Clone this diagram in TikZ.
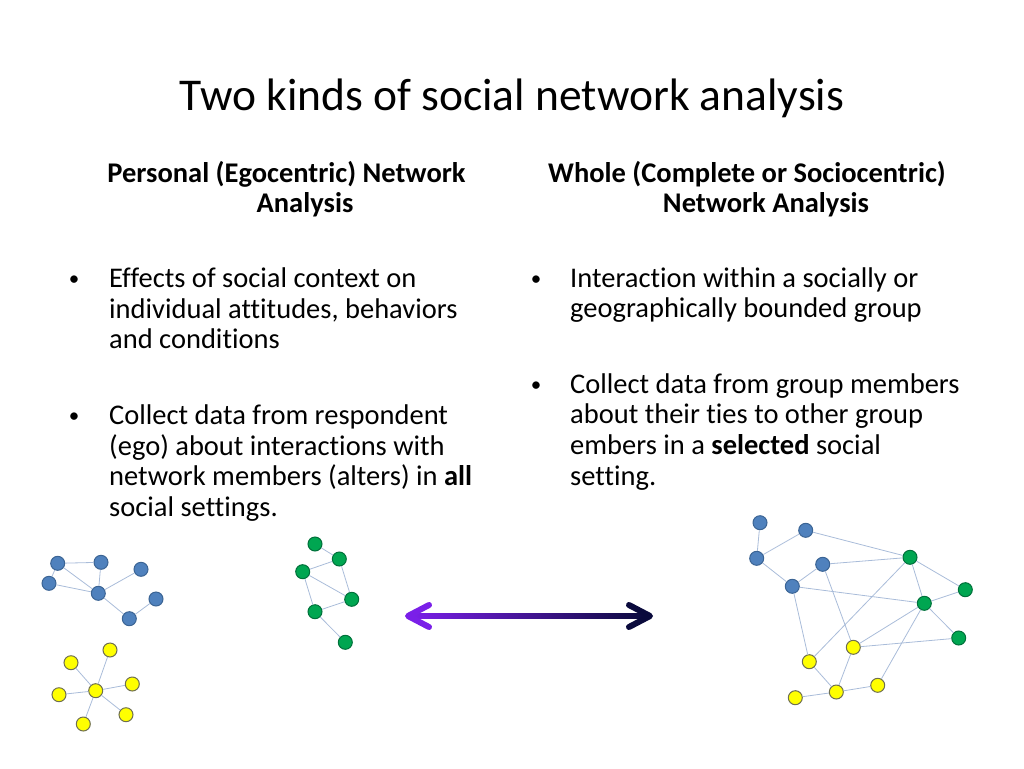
\documentclass[tikz,border=0pt]{standalone}
\usepackage{fontspec}
\setmainfont{Carlito}[Ligatures=NoCommon]
\usetikzlibrary{calc}

\definecolor{egoblue}{HTML}{4F81BD}
\definecolor{egoblueline}{HTML}{3B6494}
\definecolor{egogreen}{HTML}{00A651}
\definecolor{egogreenline}{HTML}{00703A}
\definecolor{egoyellow}{HTML}{FFFF00}
\definecolor{egoyellowline}{HTML}{6E6E50}
\definecolor{tiecolor}{HTML}{A9BCD9}
\definecolor{arrowpurple}{HTML}{7A1FE8}
\definecolor{arrowblue}{HTML}{2222C8}
\definecolor{arrownavy}{HTML}{0A0A3C}

\begin{document}
\begin{tikzpicture}[x=1pt, y=-1pt,
    tie/.style={draw=tiecolor, line width=0.8pt},
    person/.style={circle, line width=1pt, minimum size=14pt, inner sep=0pt},
    bluenode/.style={person, fill=egoblue, draw=egoblueline},
    greennode/.style={person, fill=egogreen, draw=egogreenline},
    yellownode/.style={person, fill=egoyellow, draw=egoyellowline},
    heading/.style={font=\fontsize{28.5}{30.7}\selectfont\bfseries, align=center, inner sep=0pt},
    bullettext/.style={font=\fontsize{28.5}{30.7}\selectfont, align=left, inner sep=0pt},
    bulletdot/.style={font=\fontsize{21}{30.7}\selectfont, inner sep=0pt}]

    \useasboundingbox (0,0) rectangle (1024,768);

    % Title
    \node[font=\fontsize{45.5}{50}\selectfont, anchor=base, inner sep=0pt] (title) at (512,110) {Two kinds of social network analysis};

    % Column headings (anchored on the last line)
    \node[heading, anchor=base] (leftHead) at (305,212.7) {Personal (Egocentric) Network\hspace*{37pt}\\Analysis};
    \node[heading, anchor=base] (rightHead) at (766,212.7) {Whole (Complete or Sociocentric)\hspace*{38pt}\\Network Analysis};

    % Left column bullets
    \node[bulletdot, anchor=base] (L1dot) at (74,285.5) {\textbullet};
    \node[bullettext, anchor=base west] (L1) at (109,348.7) {Effects of social context on\\individual attitudes, behaviors\\and conditions};
    \node[bulletdot, anchor=base] (L2dot) at (74,422.7) {\textbullet};
    \node[bullettext, anchor=base west] (L2) at (109,516.6) {Collect data from respondent\\(ego) about interactions with\\network members (alters) in \textbf{all}\\social settings.};

    % Right column bullets
    \node[bulletdot, anchor=base] (R1dot) at (536,285.2) {\textbullet};
    \node[bullettext, anchor=base west] (R1) at (570,317.7) {Interaction within a socially or\\geographically bounded group};
    \node[bulletdot, anchor=base] (R2dot) at (536,391.2) {\textbullet};
    \node[bullettext, anchor=base west] (R2) at (570,485.1) {Collect data from group members\\about their ties to other group\\embers in a \textbf{selected} social\\setting.};

    % Personal networks: blue
    \node[bluenode] (b1) at (57.7,563.3) {};
    \node[bluenode] (b2) at (101,562.3) {};
    \node[bluenode] (b3) at (141,569.3) {};
    \node[bluenode] (b4) at (49,583.3) {};
    \node[bluenode] (b5) at (98.3,593.3) {};
    \node[bluenode] (b6) at (156,599) {};
    \node[bluenode] (b7) at (129.3,618.7) {};
    \draw[tie] (b1) -- (b2);
    \draw[tie] (b1) -- (b4);
    \draw[tie] (b1) -- (b5);
    \draw[tie] (b2) -- (b5);
    \draw[tie] (b4) -- (b5);
    \draw[tie] (b5) -- (b3);
    \draw[tie] (b5) -- (b7);
    \draw[tie] (b7) -- (b6);

    % Personal networks: green
    \node[greennode] (g1) at (315,544) {};
    \node[greennode] (g2) at (339.3,559) {};
    \node[greennode] (g3) at (302.7,571.7) {};
    \node[greennode] (g4) at (351.7,599.3) {};
    \node[greennode] (g5) at (315,611.7) {};
    \node[greennode] (g6) at (345.3,642.3) {};
    \draw[tie] (g1) -- (g2);
    \draw[tie] (g2) -- (g3);
    \draw[tie] (g2) -- (g4);
    \draw[tie] (g3) -- (g4);
    \draw[tie] (g3) -- (g5);
    \draw[tie] (g5) -- (g4);
    \draw[tie] (g5) -- (g6);

    % Personal networks: yellow star
    \node[yellownode] (y1) at (110,650) {};
    \node[yellownode] (y2) at (71,662.7) {};
    \node[yellownode] (y3) at (132.3,684) {};
    \node[yellownode] (y4) at (95.7,690.7) {};
    \node[yellownode] (y5) at (59,694.7) {};
    \node[yellownode] (y6) at (126,714.7) {};
    \node[yellownode] (y7) at (83.3,724) {};
    \draw[tie] (y4) -- (y1);
    \draw[tie] (y4) -- (y2);
    \draw[tie] (y4) -- (y3);
    \draw[tie] (y4) -- (y5);
    \draw[tie] (y4) -- (y6);
    \draw[tie] (y4) -- (y7);

    % Double arrow
    \coordinate (arrowL) at (408,616);
    \coordinate (arrowR) at (650,616);
    \shade[left color=arrowpurple, middle color=arrowblue, right color=arrownavy]
        ($(arrowL)+(4,-2.8)$) rectangle ($(arrowR)+(-4,2.8)$);
    \draw[arrowpurple, line width=6pt, line cap=round, line join=round]
        ($(arrowL)+(21,-11)$) -- (arrowL) -- ($(arrowL)+(21,11)$);
    \draw[arrownavy, line width=6pt, line cap=round, line join=round]
        ($(arrowR)+(-21,-11)$) -- (arrowR) -- ($(arrowR)+(-21,11)$);

    % Whole network
    \node[bluenode] (B1) at (760,522.7) {};
    \node[bluenode] (B2) at (805.7,530.3) {};
    \node[bluenode] (B3) at (756.7,558.3) {};
    \node[bluenode] (B4) at (822.7,564.3) {};
    \node[bluenode] (B5) at (792.3,586.3) {};
    \node[greennode] (G1) at (910,557.3) {};
    \node[greennode] (G2) at (965.3,589.7) {};
    \node[greennode] (G3) at (924.3,603.3) {};
    \node[greennode] (G4) at (958.7,638) {};
    \node[yellownode] (Y1) at (853.3,647.3) {};
    \node[yellownode] (Y2) at (809.3,661.7) {};
    \node[yellownode] (Y3) at (877.7,685.3) {};
    \node[yellownode] (Y4) at (836.3,692) {};
    \node[yellownode] (Y5) at (795.3,697.7) {};
    \draw[tie] (B1) -- (B3);
    \draw[tie] (B3) -- (B2);
    \draw[tie] (B2) -- (G1);
    \draw[tie] (B3) -- (B5);
    \draw[tie] (B5) -- (B4);
    \draw[tie] (B4) -- (G1);
    \draw[tie] (B5) -- (G3);
    \draw[tie] (B5) -- (Y2);
    \draw[tie] (B4) -- (Y1);
    \draw[tie] (G1) -- (G2);
    \draw[tie] (G1) -- (G3);
    \draw[tie] (G1) -- (Y2);
    \draw[tie] (G3) -- (G2);
    \draw[tie] (G3) -- (G4);
    \draw[tie] (G3) -- (Y1);
    \draw[tie] (G3) -- (Y3);
    \draw[tie] (Y1) -- (G4);
    \draw[tie] (Y1) -- (Y4);
    \draw[tie] (Y2) -- (Y4);
    \draw[tie] (Y4) -- (Y5);
    \draw[tie] (Y4) -- (Y3);

\end{tikzpicture}
\end{document}
